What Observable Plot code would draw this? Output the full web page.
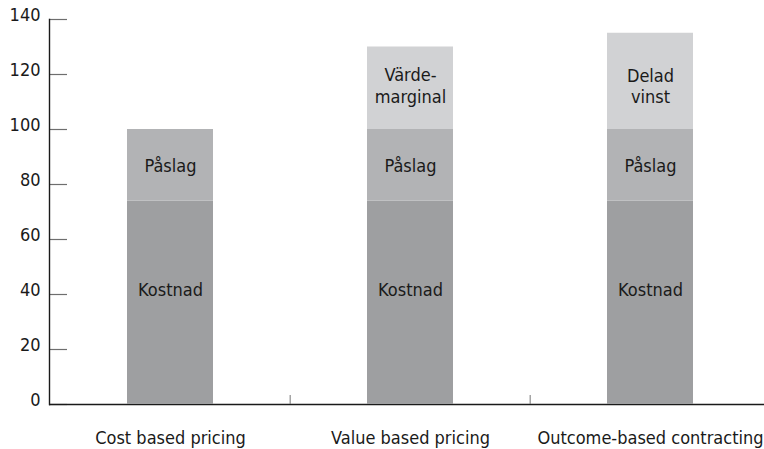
<!DOCTYPE html>
<html>
<head>
<meta charset="utf-8">
<script src="https://cdn.jsdelivr.net/npm/d3@7"></script>
<script src="https://cdn.jsdelivr.net/npm/@observablehq/plot@0.6"></script>
<style>
  html, body { margin: 0; padding: 0; background: #fff; }
</style>
</head>
<body>
<div id="chart"></div>
<script>
const categories = ["Cost based pricing", "Value based pricing", "Outcome-based contracting"];
const layers = ["Kostnad", "Påslag", "Topp"];
const kostnad = [74, 74, 74];
const paslag = [26, 26, 26];
const topp = [0, 30, 35];
const toppLabels = [null, "Värde-\nmarginal", "Delad\nvinst"];
const yTicks = [0, 20, 40, 60, 80, 100, 120, 140];
const layerColors = ["#9e9fa1", "#b2b3b5", "#d1d2d4"];

// build stacked table
const rows = [];
categories.forEach((cat, i) => {
  const vals = [kostnad[i], paslag[i], topp[i]];
  const labels = ["Kostnad", "Påslag", toppLabels[i]];
  let base = 0;
  vals.forEach((v, j) => {
    if (v > 0) {
      rows.push({cat, layer: layers[j], y1: base, y2: base + v, mid: base + v / 2, label: labels[j]});
    }
    base += v;
  });
});

const font = "'DejaVu Sans Condensed', 'Liberation Sans Narrow', sans-serif";
const fs = 18;

const chart = Plot.plot({
  width: 764,
  height: 449,
  marginLeft: 49,
  marginRight: 0,
  marginTop: 19,
  marginBottom: 45,
  style: {fontFamily: font, fontSize: fs + "px", color: "#1a1a1a", background: "#fff"},
  x: {domain: categories, range: [49, 771], paddingInner: 0.64, paddingOuter: 0.32, label: null},
  y: {domain: [0, 140], label: null},
  color: {domain: layers, range: layerColors},
  marks: [
    Plot.ruleY(yTicks, {stroke: "#6e6e6e", strokeWidth: 1.2, insetRight: 697}),
    Plot.ruleY([0], {stroke: "#1a1a1a", strokeWidth: 1.4}),
    Plot.ruleX(categories.slice(1), {stroke: "#777", strokeWidth: 1, dx: -120.33, insetTop: 376}),
    Plot.frame({anchor: "left", stroke: "#1a1a1a", strokeWidth: 1.4}),
    Plot.barY(rows, {x: "cat", y1: "y1", y2: "y2", fill: "layer"}),
    Plot.text(rows.filter(d => d.layer === "Kostnad"), {x: "cat", y: "mid", text: "label", fill: "#1a1a1a", fontSize: fs, dy: -13}),
    Plot.text(rows.filter(d => d.layer === "Påslag"), {x: "cat", y: "mid", text: "label", fill: "#1a1a1a", fontSize: fs, dy: 1}),
    Plot.text(rows.filter(d => d.layer === "Topp" && d.cat === categories[1]), {x: "cat", y: "mid", text: "label", fill: "#1a1a1a", fontSize: fs, lineHeight: 1.2, dy: -3}),
    Plot.text(rows.filter(d => d.layer === "Topp" && d.cat === categories[2]), {x: "cat", y: "mid", text: "label", fill: "#1a1a1a", fontSize: fs, lineHeight: 1.2, dy: 4}),
    Plot.axisX({tickSize: 0, tickPadding: 27, label: null, fontSize: fs}),
    Plot.axisY({ticks: yTicks, tickSize: 0, tickPadding: 9, dy: -4, label: null, fontSize: fs})
  ]
});
document.getElementById("chart").appendChild(chart);
</script>
</body>
</html>
